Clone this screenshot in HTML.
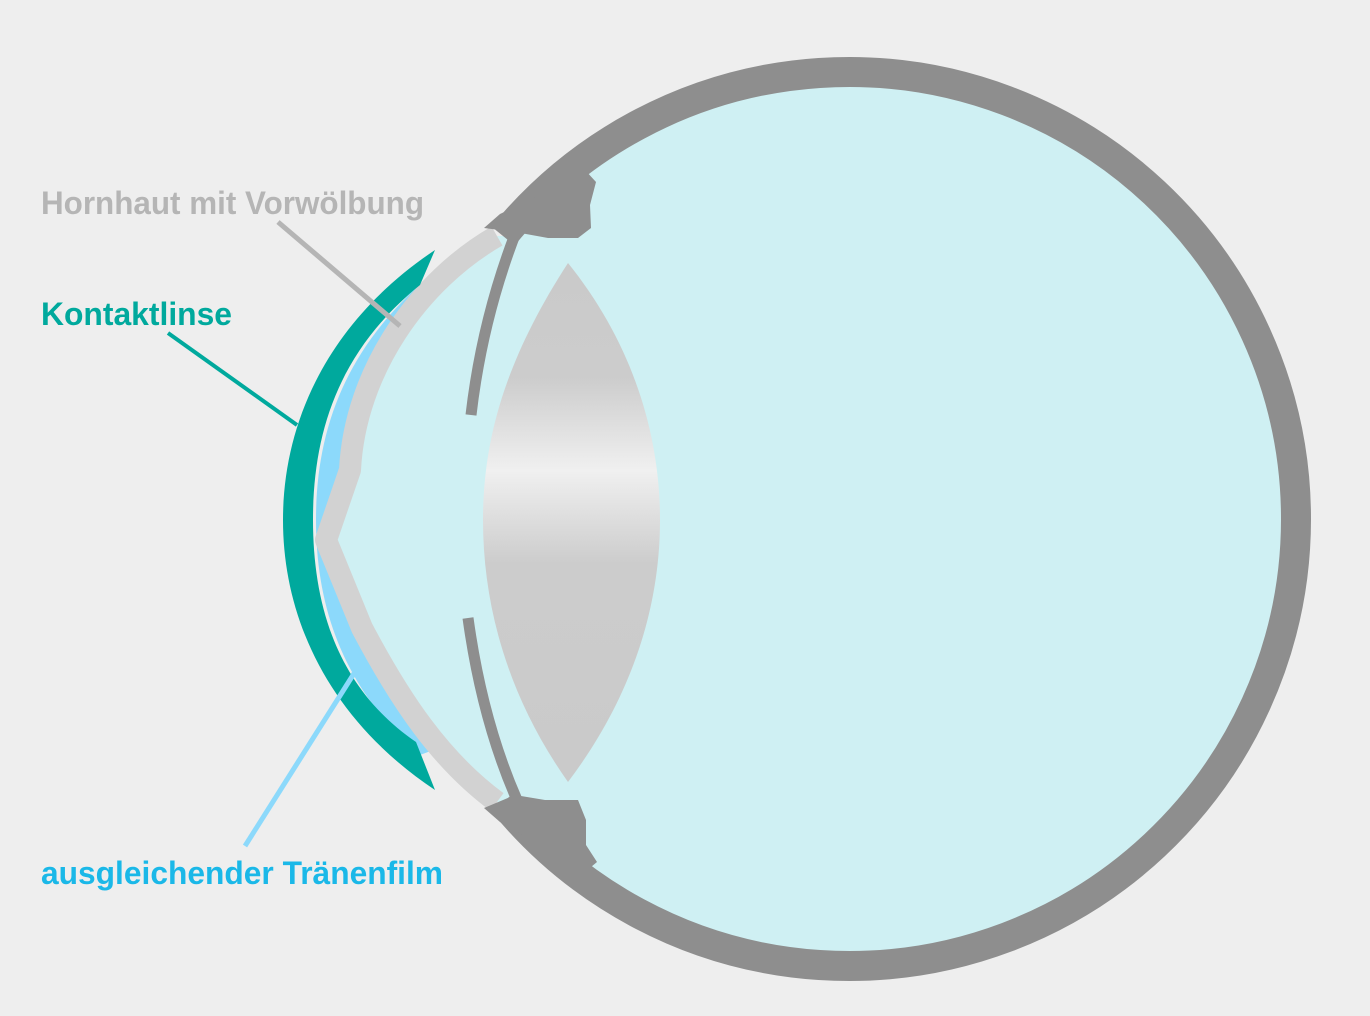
<!DOCTYPE html>
<html><head><meta charset="utf-8"><style>
html,body{margin:0;padding:0;background:#eeeeee;}
svg{display:block}
text{font-family:"Liberation Sans",sans-serif;font-weight:bold;font-size:32px}
</style></head><body>
<svg width="1370" height="1016" viewBox="0 0 1370 1016">
<defs>
<linearGradient id="lg" x1="0" y1="263" x2="0" y2="782" gradientUnits="userSpaceOnUse">
<stop offset="0" stop-color="#cacaca"/>
<stop offset="0.22" stop-color="#cccccc"/>
<stop offset="0.40" stop-color="#f0f0f0"/>
<stop offset="0.58" stop-color="#cccccc"/>
<stop offset="1" stop-color="#cacaca"/>
</linearGradient>
</defs>
<rect width="1370" height="1016" fill="#eeeeee"/>
<circle cx="849" cy="519" r="440" fill="#cff0f3"/>
<path d="M425,280 C345,350 316,430 316,520 C316,610 345,690 420,755 L460,740 L420,520 L460,290 Z" fill="#8cd9fb"/>
<path d="M497,236 C420,280 355,370 350,470 L326,540 L362,628 C400,700 440,760 497,802 L520,802 L520,236 Z" fill="#cff0f3"/>
<path d="M497,236 C420,280 355,370 350,470 L326,540 L362,628 C400,700 440,760 497,802" fill="none" stroke="#d2d2d2" stroke-width="22" stroke-linejoin="round"/>
<path d="M435,250 C330,320 283,420 283,520 C283,620 330,720 435,790 L416,742 C340,690 313,610 313,520 C313,430 340,350 420,285 Z" fill="#00a99d"/>
<path d="M503,236 A447 447 0 1 1 503,802" fill="none" stroke="#8e8e8e" stroke-width="30"/>
<path d="M484,228 L500,214 L540,195 L585,170 L596,182 L590,205 L591,228 L578,238 L548,238 L515,232 Z" fill="#8e8e8e"/>
<path d="M484,808 L515,795 L545,800 L578,800 L586,820 L586,845 L597,862 L585,872 L540,845 L500,822 Z" fill="#8e8e8e"/>
<path d="M516,232 Q482,320 471,415" fill="none" stroke="#8e8e8e" stroke-width="11"/>
<path d="M468,618 Q482,720 517,800" fill="none" stroke="#8e8e8e" stroke-width="11"/>
<path d="M568,263 C505,360 483,440 483,520 C483,610 510,700 568,782 C630,700 660,610 660,520 C660,430 630,340 568,263 Z" fill="url(#lg)"/>
<line x1="278" y1="222" x2="400" y2="326" stroke="#b5b5b5" stroke-width="5"/>
<line x1="168" y1="333" x2="297" y2="425" stroke="#00a99d" stroke-width="4"/>
<line x1="245" y1="846" x2="360" y2="664" stroke="#8cd9fb" stroke-width="5"/>
<text x="41" y="214" fill="#b5b5b5" textLength="383" lengthAdjust="spacingAndGlyphs">Hornhaut mit Vorwölbung</text>
<text x="41" y="325" fill="#00a99d" textLength="191" lengthAdjust="spacingAndGlyphs">Kontaktlinse</text>
<text x="41" y="884" fill="#1ab8e8" textLength="402" lengthAdjust="spacingAndGlyphs">ausgleichender Tränenfilm</text>
</svg>
</body></html>
